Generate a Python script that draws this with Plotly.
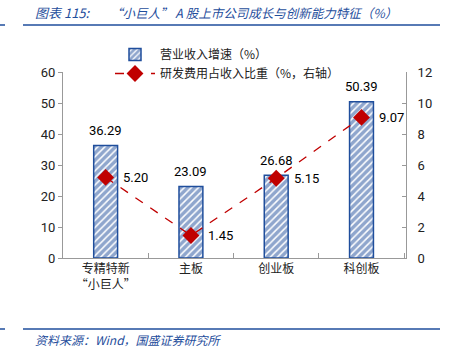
import plotly.graph_objects as go

categories = ["专精特新<br>“小巨人”", "主板", "创业板", "科创板"]
revenue_growth = [36.29, 23.09, 26.68, 50.39]
rd_ratio = [5.20, 1.45, 5.15, 9.07]
left_ticks = [0, 10, 20, 30, 40, 50, 60]
right_ticks = [0, 2, 4, 6, 8, 10, 12]

BLUE = "#1F4E9C"
RED = "#C00000"
NUM_FONT = "Roboto, Liberation Sans, sans-serif"
CJK_FONT = "Noto Sans CJK SC, sans-serif"

W, H = 449, 355
ML, MR, MT, MB = 63, 43, 72, 97
pw = W - ML - MR
ph = H - MT - MB


def px_x(x):
    return (x - ML) / pw


def px_y(y):
    return (H - MB - y) / ph


fig = go.Figure()
fig.add_trace(go.Bar(
    x=categories, y=revenue_growth, name="营业收入增速（%）",
    width=0.28,
    marker=dict(color="white", line=dict(color=BLUE, width=1.5),
                pattern=dict(shape="/", fgcolor=BLUE, bgcolor="white", size=5, solidity=0.7)),
))
fig.add_trace(go.Scatter(
    x=categories, y=rd_ratio, name="研发费用占收入比重（%，右轴）", yaxis="y2",
    mode="lines+markers",
    line=dict(color=RED, width=1.3, dash="dash"),
    marker=dict(symbol="diamond", size=13, color=RED),
))

for c, v in zip(categories, revenue_growth):
    fig.add_annotation(x=c, y=v, text=f"{v:.2f}", showarrow=False, yshift=15,
                       font=dict(family=NUM_FONT, size=13, color="black"))
for c, v in zip(categories, rd_ratio):
    fig.add_annotation(x=c, y=v, yref="y2", text=f"{v:.2f}", showarrow=False, xshift=30,
                       font=dict(family=NUM_FONT, size=13, color="black"))

fig.add_annotation(xref="paper", yref="paper", x=px_x(33), y=px_y(12), xanchor="left", yanchor="middle",
                   text="<i>图表 115:</i>", showarrow=False,
                   font=dict(family=CJK_FONT, size=13, color=BLUE))
fig.add_annotation(xref="paper", yref="paper", x=px_x(108), y=px_y(12), xanchor="left", yanchor="middle",
                   text="<i>“小巨人” A 股上市公司成长与创新能力特征（%）</i>", showarrow=False,
                   font=dict(family=CJK_FONT, size=12.5, color=BLUE))
fig.add_annotation(xref="paper", yref="paper", x=px_x(33), y=px_y(339), xanchor="left", yanchor="middle",
                   text="<i>资料来源：Wind，国盛证券研究所</i>", showarrow=False,
                   font=dict(family=CJK_FONT, size=12, color=BLUE))

for yy in (25, 329):
    fig.add_shape(type="line", xref="paper", yref="paper", x0=px_x(23), x1=px_x(440),
                  y0=px_y(yy), y1=px_y(yy), line=dict(color=BLUE, width=1.5))
    fig.add_shape(type="line", xref="paper", yref="paper", x0=px_x(0), x1=px_x(5),
                  y0=px_y(yy), y1=px_y(yy), line=dict(color=BLUE, width=1.5))

fig.update_layout(
    width=W, height=H,
    margin=dict(l=ML, r=MR, t=MT, b=MB),
    paper_bgcolor="white", plot_bgcolor="white",
    showlegend=True,
    legend=dict(x=px_x(110), y=px_y(40), xanchor="left", yanchor="top", bgcolor="rgba(0,0,0,0)",
                font=dict(family=CJK_FONT, size=12, color="#222"),
                itemwidth=40, tracegroupgap=4),
    xaxis=dict(showline=True, linecolor="#999", linewidth=1, ticks="inside", ticklen=5,
               tickcolor="#999", tickson="boundaries", showgrid=False,
               tickfont=dict(family=CJK_FONT, size=12, color="#222")),
    yaxis=dict(range=[0, 60], tickvals=left_ticks, showline=True, linecolor="#999", linewidth=1,
               ticks="outside", ticklen=4, tickcolor="#999", showgrid=False, zeroline=False,
               tickfont=dict(family=NUM_FONT, size=13, color="#222")),
    yaxis2=dict(range=[0, 12], tickvals=right_ticks, overlaying="y", side="right", showline=True,
                linecolor="#999", linewidth=1, ticks="inside", ticklen=4, tickcolor="#999",
                showgrid=False, zeroline=False, ticklabelstandoff=8,
                tickfont=dict(family=NUM_FONT, size=13, color="#222")),
)

fig.write_html("out.html", config={"displayModeBar": False},
               post_script="document.body.style.margin='0';document.body.style.overflow='hidden';")
